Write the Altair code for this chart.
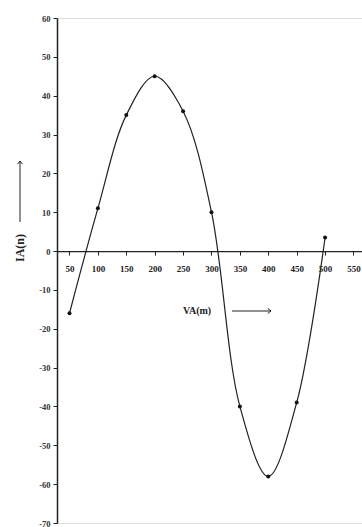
import altair as alt
import pandas as pd

va = [50, 100, 150, 200, 250, 300, 350, 400, 450, 500]
ia = [-16, 11, 35, 45, 36, 10, -40, -58, -39, 3.5]
x_ticks = [50, 100, 150, 200, 250, 300, 350, 400, 450, 500, 550]
y_ticks = [-70, -60, -50, -40, -30, -20, -10, 0, 10, 20, 30, 40, 50, 60]

df = pd.DataFrame({"VA": va, "IA": ia})

X_DOM = [28, 565]
Y_DOM = [-70, 60]
W, H = 305, 505
FONT = "Liberation Serif"
INK = "#222"

xs = alt.Scale(domain=X_DOM, nice=False, zero=False)
ys = alt.Scale(domain=Y_DOM, nice=False, zero=False)

y0_offset = -(H - H * Y_DOM[1] / (Y_DOM[1] - Y_DOM[0]))

x_axis = alt.Axis(values=x_ticks, title=None, grid=False, orient="bottom",
                  offset=y0_offset, labelFont=FONT, labelFontWeight="bold",
                  labelFontSize=9, labelColor=INK, tickSize=4, tickColor=INK,
                  domainColor=INK, domainWidth=1.2, labelPadding=9,
                  labelOverlap=False, labelExpr="'' + datum.value")
y_axis = alt.Axis(values=y_ticks, title=None, grid=False, labelFont=FONT,
                  labelFontWeight="bold", labelFontSize=8.5, labelColor="#333",
                  tickSize=4, tickColor=INK, domainColor=INK, domainWidth=1.5,
                  labelPadding=3, labelOverlap=False, labelExpr="'' + datum.value")

X = alt.X("VA:Q", scale=xs, axis=x_axis)
Y = alt.Y("IA:Q", scale=ys, axis=y_axis)

line = alt.Chart(df).mark_line(interpolate="catmull-rom", color=INK, strokeWidth=1.2).encode(
    x=X, y=Y)
pts = alt.Chart(df).mark_circle(color="#111", size=16, opacity=1).encode(x=X, y=Y)

# x-axis caption with arrow
xlab = alt.Chart(pd.DataFrame({"t": ["VA(m)"]})).mark_text(
    font=FONT, fontWeight="bold", fontSize=10, color=INK, align="left",
    baseline="middle").encode(x=alt.value(126), y=alt.value(293), text="t:N")
xarrow = alt.Chart(pd.DataFrame({"a": [0]})).mark_rule(color=INK, strokeWidth=1).encode(
    x=alt.value(175), x2=alt.value(214), y=alt.value(293))
xhead = alt.Chart(pd.DataFrame({"a": [0]})).mark_point(
    shape="M -1 -0.8 L 0 0 L -1 0.8", filled=False, color=INK, strokeWidth=1,
    size=40, opacity=1).encode(x=alt.value(214), y=alt.value(293))

# y-axis caption with arrow
ylab = alt.Chart(pd.DataFrame({"t": ["IA(n)"]})).mark_text(
    font=FONT, fontWeight="bold", fontSize=12, color=INK, angle=270,
    align="center", baseline="middle").encode(
    x=alt.value(-37), y=alt.value(230), text="t:N")
yarrow = alt.Chart(pd.DataFrame({"a": [0]})).mark_rule(color=INK, strokeWidth=1).encode(
    x=alt.value(-37), y=alt.value(204), y2=alt.value(143))
yhead = alt.Chart(pd.DataFrame({"a": [0]})).mark_point(
    shape="M -0.8 1 L 0 0 L 0.8 1", filled=False, color=INK, strokeWidth=1,
    size=40, opacity=1).encode(x=alt.value(-37), y=alt.value(143))

chart = alt.layer(line, pts, xlab, xarrow, xhead, ylab, yarrow, yhead).properties(
    width=W, height=H,
    autosize=alt.AutoSizeParams(type="none"),
    padding={"left": 57, "top": 18, "right": 0, "bottom": 4},
).configure_view(stroke=None).configure_axis(labelOverlap=False).configure(background="white")

chart.save("out.html", embed_options={"renderer": "svg", "actions": False})
